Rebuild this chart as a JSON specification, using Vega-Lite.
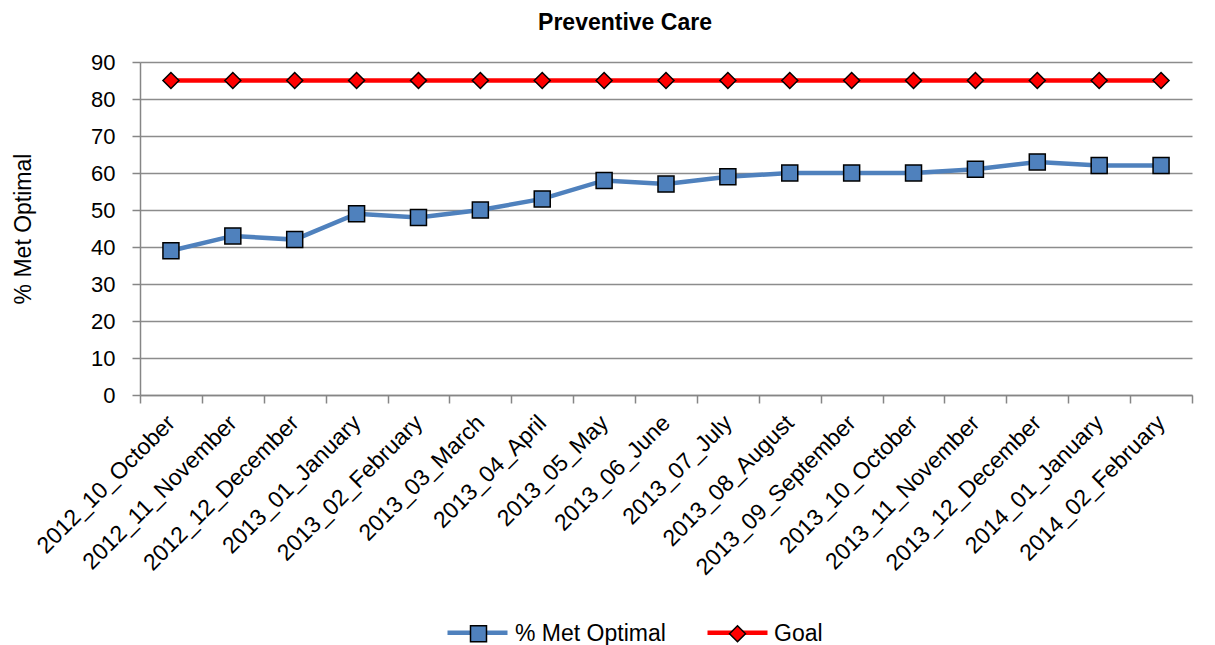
{
  "$schema": "https://vega.github.io/schema/vega-lite/v6.json",
  "width": 1052,
  "height": 333,
  "autosize": {"type": "none"},
  "padding": {"left": 140, "top": 62, "right": 23, "bottom": 250},
  "background": "white",
  "config": {
    "font": "Liberation Sans",
    "view": {"stroke": null}
  },
  "title": {
    "text": "Preventive Care",
    "fontSize": 23,
    "fontWeight": "bold",
    "font": "Liberation Sans",
    "color": "#000000",
    "anchor": "middle",
    "dx": -41,
    "offset": 16
  },
  "data": {
    "values": [
      {"month": "2012_10_October", "series": "% Met Optimal", "value": 39},
      {"month": "2012_11_November", "series": "% Met Optimal", "value": 43},
      {"month": "2012_12_December", "series": "% Met Optimal", "value": 42},
      {"month": "2013_01_January", "series": "% Met Optimal", "value": 49},
      {"month": "2013_02_February", "series": "% Met Optimal", "value": 48},
      {"month": "2013_03_March", "series": "% Met Optimal", "value": 50},
      {"month": "2013_04_April", "series": "% Met Optimal", "value": 53},
      {"month": "2013_05_May", "series": "% Met Optimal", "value": 58},
      {"month": "2013_06_June", "series": "% Met Optimal", "value": 57},
      {"month": "2013_07_July", "series": "% Met Optimal", "value": 59},
      {"month": "2013_08_August", "series": "% Met Optimal", "value": 60},
      {"month": "2013_09_September", "series": "% Met Optimal", "value": 60},
      {"month": "2013_10_October", "series": "% Met Optimal", "value": 60},
      {"month": "2013_11_November", "series": "% Met Optimal", "value": 61},
      {"month": "2013_12_December", "series": "% Met Optimal", "value": 63},
      {"month": "2014_01_January", "series": "% Met Optimal", "value": 62},
      {"month": "2014_02_February", "series": "% Met Optimal", "value": 62},
      {"month": "2012_10_October", "series": "Goal", "value": 85},
      {"month": "2012_11_November", "series": "Goal", "value": 85},
      {"month": "2012_12_December", "series": "Goal", "value": 85},
      {"month": "2013_01_January", "series": "Goal", "value": 85},
      {"month": "2013_02_February", "series": "Goal", "value": 85},
      {"month": "2013_03_March", "series": "Goal", "value": 85},
      {"month": "2013_04_April", "series": "Goal", "value": 85},
      {"month": "2013_05_May", "series": "Goal", "value": 85},
      {"month": "2013_06_June", "series": "Goal", "value": 85},
      {"month": "2013_07_July", "series": "Goal", "value": 85},
      {"month": "2013_08_August", "series": "Goal", "value": 85},
      {"month": "2013_09_September", "series": "Goal", "value": 85},
      {"month": "2013_10_October", "series": "Goal", "value": 85},
      {"month": "2013_11_November", "series": "Goal", "value": 85},
      {"month": "2013_12_December", "series": "Goal", "value": 85},
      {"month": "2014_01_January", "series": "Goal", "value": 85},
      {"month": "2014_02_February", "series": "Goal", "value": 85}
    ]
  },
  "encoding": {
    "x": {
      "field": "month",
      "type": "ordinal",
      "sort": null,
      "bandPosition": 0.5,
      "scale": {"type": "band", "paddingInner": 0, "paddingOuter": 0},
      "axis": {
        "title": null,
        "tickBand": "extent",
        "labelAngle": -45,
        "labelAlign": "right",
        "labelBaseline": "middle",
        "labelFontSize": 23,
        "labelColor": "#000000",
        "labelPadding": 16,
        "labelOverlap": false,
        "labelLimit": 0,
        "labelFont": "Liberation Sans",
        "domainColor": "#868686",
        "domainWidth": 1.5,
        "tickColor": "#868686",
        "tickWidth": 1.5,
        "tickSize": 8,
        "grid": false
      }
    },
    "y": {
      "field": "value",
      "type": "quantitative",
      "scale": {"domain": [0, 90], "nice": false},
      "axis": {
        "title": "% Met Optimal",
        "titleFontSize": 23,
        "titleFontWeight": "normal",
        "titleColor": "#000000",
        "titleFont": "Liberation Sans",
        "titlePadding": 55,
        "values": [0, 10, 20, 30, 40, 50, 60, 70, 80, 90],
        "labelFontSize": 22,
        "labelColor": "#000000",
        "labelFont": "Liberation Sans",
        "labelPadding": 17,
        "domainColor": "#868686",
        "domainWidth": 1.5,
        "tickColor": "#868686",
        "tickWidth": 1.5,
        "tickSize": 8,
        "grid": true,
        "gridColor": "#8c8c8c",
        "gridWidth": 1.5
      }
    }
  },
  "layer": [
    {
      "mark": {"type": "line", "strokeWidth": 4.5},
      "encoding": {
        "stroke": {
          "field": "series",
          "type": "nominal",
          "scale": {"range": ["#4F81BD", "#FF0000"]},
          "legend": {
            "title": null,
            "orient": "none",
            "legendX": 305,
            "legendY": 538,
            "zindex": 0,
            "direction": "horizontal",
            "symbolType": "stroke",
            "symbolSize": 3600,
            "symbolStrokeWidth": 4.5,
            "labelExpr": "''",
            "labelFontSize": 23,
            "labelFont": "Liberation Sans",
            "labelOffset": 0,
            "columnPadding": 181
          }
        }
      }
    },
    {
      "mark": {"type": "point", "filled": true, "stroke": "#000000", "strokeWidth": 1.5, "opacity": 1, "size": 256},
      "encoding": {
        "fill": {
          "field": "series",
          "type": "nominal",
          "scale": {"domain": ["% Met Optimal", "Goal"], "range": ["#4F81BD", "#FF0000"]},
          "legend": {
            "title": null,
            "orient": "none",
            "legendX": 327,
            "legendY": 560,
            "zindex": 1,
            "direction": "horizontal",
            "symbolSize": 256,
            "symbolStrokeColor": "#000000",
            "symbolStrokeWidth": 1.5,
            "symbolOpacity": 1,
            "labelFontSize": 23,
            "labelColor": "#000000",
            "labelFont": "Liberation Sans",
            "labelOffset": 25,
            "columnPadding": 60
          }
        },
        "shape": {
          "field": "series",
          "type": "nominal",
          "scale": {"domain": ["% Met Optimal", "Goal"], "range": ["square", "diamond"]}
        }
      }
    }
  ]
}
